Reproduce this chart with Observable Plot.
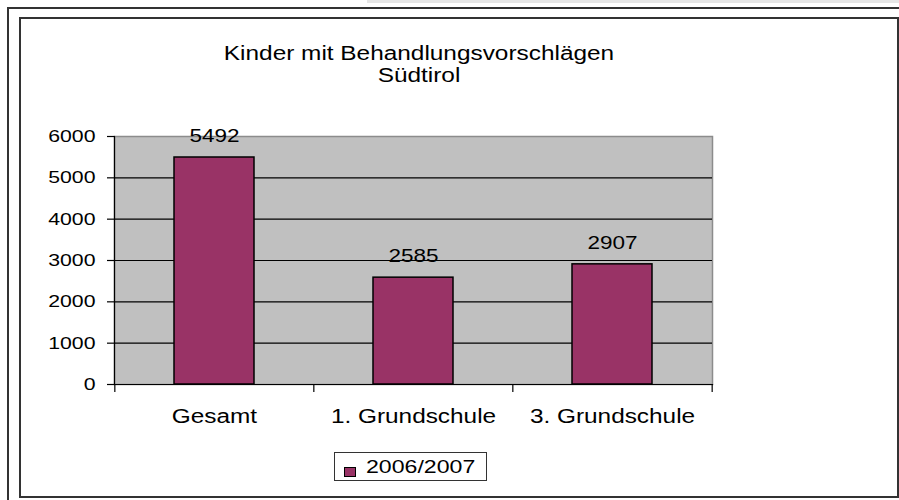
<!DOCTYPE html>
<html>
<head>
<meta charset="utf-8">
<script src="https://cdn.jsdelivr.net/npm/d3@7"></script>
<script src="https://cdn.jsdelivr.net/npm/@observablehq/plot@0.6"></script>
<style>
  html, body { margin: 0; padding: 0; background: #fff; }
  #page { position: relative; width: 899px; height: 500px; overflow: hidden; font-family: "Liberation Sans", Arial, sans-serif; color: #000; }
  .abs { position: absolute; }
  #topband { left: 367px; top: 0; width: 532px; height: 3px; background: #e6e6e6; }
  #outerL { left: 7px; top: 7px; width: 2px; height: 493px; background: #333; }
  #outerT { left: 7px; top: 7px; width: 892px; height: 2px; background: #333; }
  #inner { left: 19px; top: 17px; width: 876px; height: 477px; border: 2px solid #333; }
  #title { left: 219px; width: 400px; top: 42px; text-align: center; font-size: 19.5px; line-height: 22px; transform: scaleX(1.25); transform-origin: 50% 50%; }
  #chart { left: 0; top: 0; }
  #legend { left: 334px; top: 452px; width: 151px; height: 27px; border: 1px solid #333; background: #fff; }
  #legend .sw { position: absolute; left: 9px; top: 14px; width: 10px; height: 8px; background: #993366; border: 1px solid #000; }
  #legend .lab { position: absolute; left: 31px; top: 3px; font-size: 18.5px; line-height: 22px; transform: scaleX(1.25); transform-origin: 0 50%; }
</style>
</head>
<body>
<div id="page">
  <div class="abs" id="topband"></div>
  <div class="abs" id="outerL"></div>
  <div class="abs" id="outerT"></div>
  <div class="abs" id="inner"></div>
  <div class="abs" id="chart"></div>
  <div class="abs" id="title"></div>
  <div class="abs" id="legend"><div class="sw"></div><div class="lab"></div></div>
</div>
<script>
const titleLines = ["Kinder mit Behandlungsvorschlägen", "Südtirol"];
const categories = ["Gesamt", "1. Grundschule", "3. Grundschule"];
const values = [5492, 2585, 2907];
const yTicks = [0, 1000, 2000, 3000, 4000, 5000, 6000];
const seriesName = "2006/2007";

const data = categories.map((c, i) => ({category: c, value: values[i]}));

const W = 899, H = 500;
const mL = 114, mR = 187, mT = 136, mB = 116;
const step = (W - mL - mR) / categories.length;
const stretch = 1.25;

document.getElementById("title").innerHTML = titleLines.join("<br>");
document.querySelector("#legend .lab").textContent = seriesName;

const chart = Plot.plot({
  width: W,
  height: H,
  marginLeft: mL,
  marginRight: mR,
  marginTop: mT,
  marginBottom: mB,
  style: {background: "transparent", fontFamily: "'Liberation Sans', Arial, sans-serif", fontSize: "18px", color: "#000", overflow: "visible"},
  x: {domain: categories, paddingInner: 0.6, paddingOuter: 0.3, axis: null},
  y: {domain: [0, 6000], axis: null},
  marks: [
    Plot.frame({fill: "#c0c0c0", stroke: "#8c8c8c", strokeWidth: 1.5}),
    Plot.ruleY(yTicks.slice(1, -1), {stroke: "#000", strokeWidth: 1.2}),
    Plot.barY(data, {x: "category", y: "value", fill: "#993366", stroke: "#000", strokeWidth: 1.5}),
    Plot.frame({anchor: "left", stroke: "#000", strokeWidth: 1.2}),
    Plot.frame({anchor: "bottom", stroke: "#000", strokeWidth: 1.2}),
    Plot.axisY({ticks: yTicks, tickSize: 7, tickPadding: 12, tickFormat: d => String(d), stroke: "#000", strokeWidth: 1.2, fontSize: 17, label: null}),
    Plot.axisX({ticks: categories, tickSize: 8, dx: -step / 2, text: null, stroke: "#000", strokeWidth: 1.2, label: null}),
    Plot.axisX({ticks: categories.slice(-1), tickSize: 8, dx: step / 2, text: null, stroke: "#000", strokeWidth: 1.2, label: null}),
    Plot.axisX({ticks: categories, tickSize: 0, tickPadding: 25, fontSize: 19.5, label: null}),
    Plot.text(data, {x: "category", y: "value", text: d => String(d.value), dy: -21, fontSize: 18, fill: "#000"})
  ]
});

// horizontally widen the glyphs, as in the reference rendering
chart.querySelectorAll("text").forEach(t => {
  const tr = t.getAttribute("transform");
  if (tr) {
    t.setAttribute("transform", tr + ` scale(${stretch},1)`);
  } else {
    const x = +(t.getAttribute("x") || 0), y = +(t.getAttribute("y") || 0);
    t.removeAttribute("x"); t.removeAttribute("y");
    t.setAttribute("transform", `translate(${x},${y}) scale(${stretch},1)`);
  }
});
document.getElementById("chart").appendChild(chart);
</script>
</body>
</html>
